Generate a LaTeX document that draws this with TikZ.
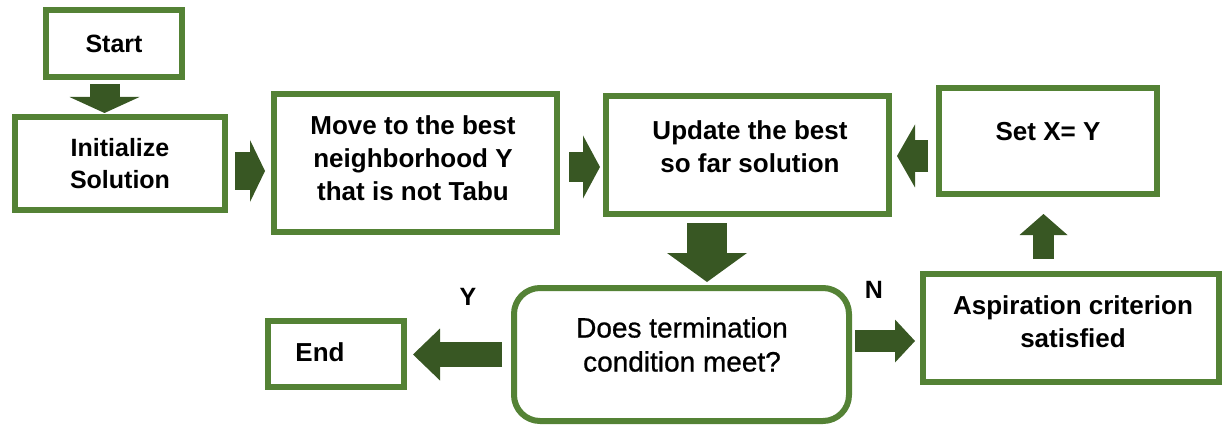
\documentclass[tikz,border=0pt]{standalone}
\usepackage{fontspec}
\setmainfont{Liberation Sans}
\newfontfamily\medfont[FakeBold=0.8]{Liberation Sans}
\usetikzlibrary{arrows.meta,calc}
\definecolor{boxgreen}{RGB}{84,130,53}
\definecolor{arrowgreen}{RGB}{56,87,35}
\tikzset{
  box/.style={draw=boxgreen, line width=6pt, fill=white, inner sep=0pt, align=center},
  rbox/.style={box, rounded corners=26pt},
  txtb/.style={align=center, inner sep=0pt, font=\bfseries\fontsize{26}{33}\selectfont},
  txtr/.style={align=center, inner sep=0pt, font=\medfont\fontsize{28}{34}\selectfont},
  lbl/.style={inner sep=0pt, font=\bfseries\fontsize{25}{28}\selectfont},
  barrow/.style n args={3}{draw=arrowgreen, line width=#1pt,
    -{Triangle[width=#2pt, length=#3pt, line width=0pt]}}
}
\begin{document}
\begin{tikzpicture}[x=1pt,y=-1pt]
\useasboundingbox (0,0) rectangle (1224,425);
% boxes
\node[box, minimum width=136pt, minimum height=67pt, font=\bfseries\fontsize{25}{32}\selectfont] (start) at (114,43.5) {Start};
\node[box, minimum width=210pt, minimum height=93pt, font=\bfseries\fontsize{25}{32}\selectfont] (init) at (120,163.5) {Initialize\\Solution};
\node[box, minimum width=283pt, minimum height=138pt] (move) at (415.5,163) {};
\node[txtb] (movet) at (413,158.5) {Move to the best\\neighborhood Y\\that is not Tabu};
\node[box, minimum width=283pt, minimum height=118pt] (update) at (747.5,155) {};
\node[txtb] (updatet) at (750,146.5) {Update the best\\so far solution};
\node[box, minimum width=218pt, minimum height=106pt] (set) at (1048,141) {};
\node[txtb] (sett) at (1048,132) {Set X= Y};
\node[box, minimum width=296pt, minimum height=108pt] (asp) at (1071,328) {};
\node[txtb] (aspt) at (1073,321.5) {Aspiration criterion\\satisfied};
\node[rbox, minimum width=335pt, minimum height=133pt] (dec) at (681.5,354.5) {};
\node[txtr] (dect) at (682,344.5) {Does termination\\condition meet?};
\node[box, minimum width=136pt, minimum height=66pt] (end) at (336,354) {};
\node[txtb] (endt) at (320,352) {End};
% labels
\node[lbl] (ylab) at (468,297) {Y};
\node[lbl] (nlab) at (874,290) {N};
% block arrows
\coordinate (a1) at ($(start.south)+(-9.5,4)$);
\draw[barrow={30}{70}{16}] (a1) -- ($(a1 |- init.north)+(0,-1)$);
\coordinate (a2) at ($(init.east)+(7,7.5)$);
\draw[barrow={38}{62}{15}] (a2) -- ($(a2 -| move.west)+(-6,0)$);
\coordinate (a3) at ($(move.east)+(9,4)$);
\draw[barrow={30}{63}{17}] (a3) -- ($(a3 -| update.west)+(-3,0)$);
\coordinate (a4) at ($(update.south)+(-40.5,6)$);
\draw[barrow={40}{80}{29}] (a4) -- ($(a4 |- dec.north)+(0,-3)$);
\coordinate (a5) at ($(dec.west)+(-9,0)$);
\draw[barrow={25}{52}{27}] (a5) -- ($(a5 -| end.east)+(6,0)$);
\coordinate (a6) at ($(dec.east)+(3,-13.5)$);
\draw[barrow={22}{43}{20}] (a6) -- ($(a6 -| asp.west)+(-5,0)$);
\coordinate (a7) at ($(asp.north)+(-27.5,-12)$);
\draw[barrow={21}{48}{21}] (a7) -- ($(a7 |- set.south)+(0,17)$);
\coordinate (a8) at ($(set.west)+(-8,15)$);
\draw[barrow={32}{63}{18}] (a8) -- ($(a8 -| update.east)+(5,0)$);
\end{tikzpicture}
\end{document}
